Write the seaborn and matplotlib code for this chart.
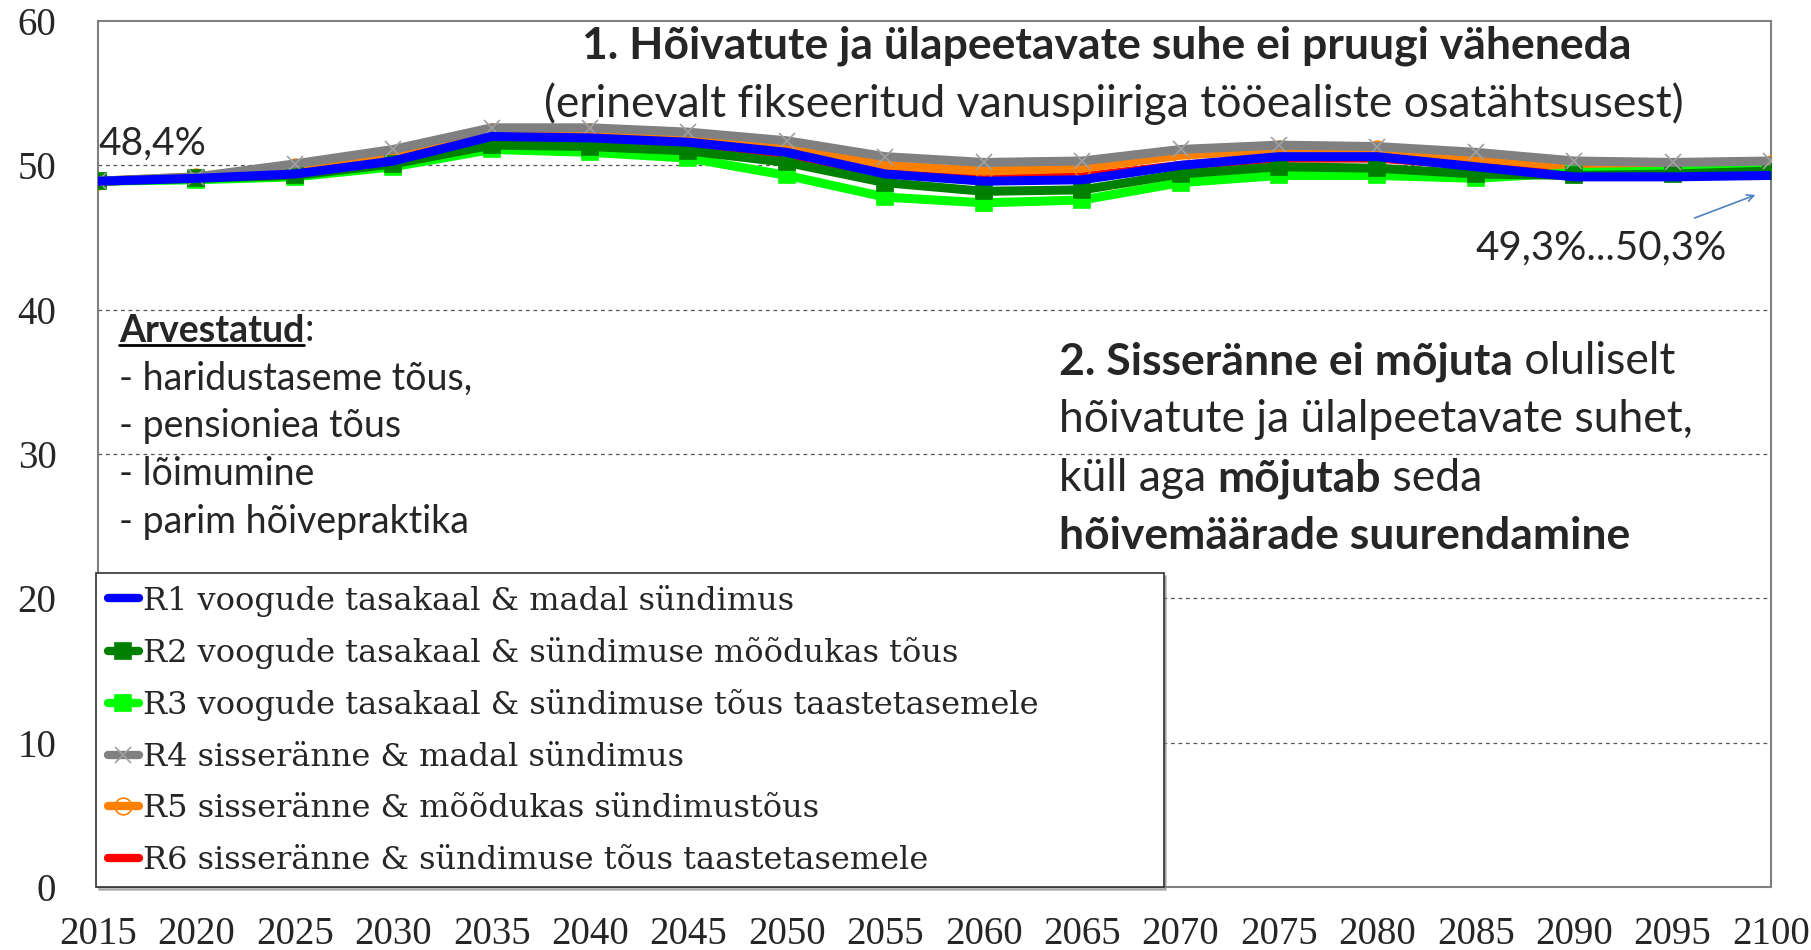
import numpy as np
import pandas as pd
import seaborn as sns
import matplotlib.pyplot as plt

# data
years = list(range(2015, 2101, 5))
r1 = [48.9, 49.1, 49.4, 50.3, 52.0, 51.9, 51.6, 50.9, 49.4, 48.9, 49.0, 50.0, 50.6, 50.6, 49.9, 49.2, 49.2, 49.3]
r2 = [48.9, 49.1, 49.3, 50.1, 51.4, 51.3, 51.0, 50.2, 48.8, 48.2, 48.3, 49.4, 49.9, 49.8, 49.4, 49.3, 49.4, 49.6]
r3 = [48.9, 49.0, 49.2, 49.9, 51.1, 50.9, 50.5, 49.3, 47.8, 47.4, 47.6, 48.8, 49.3, 49.3, 49.1, 49.5, 49.6, 49.8]
r4 = [48.9, 49.2, 50.1, 51.1, 52.6, 52.6, 52.3, 51.7, 50.6, 50.2, 50.3, 51.1, 51.4, 51.3, 50.9, 50.3, 50.2, 50.3]
r5 = [48.9, 49.2, 49.9, 50.8, 52.3, 52.3, 51.9, 51.2, 50.0, 49.6, 49.8, 50.7, 51.1, 51.1, 50.5, 49.9, 49.9, 50.1]
r6 = [48.9, 49.1, 49.4, 50.4, 51.8, 51.6, 51.1, 50.3, 49.6, 49.1, 49.2, 50.0, 50.5, 50.5, 50.0, 49.7, 49.6, 49.8]

names = [
    "R1 voogude tasakaal & madal sündimus",
    "R2 voogude tasakaal & sündimuse mõõdukas tõus",
    "R3 voogude tasakaal & sündimuse tõus taastetasemele",
    "R4 sisseränne & madal sündimus",
    "R5 sisseränne & mõõdukas sündimustõus",
    "R6 sisseränne & sündimuse tõus taastetasemele",
]
series = [r1, r2, r3, r4, r5, r6]
colors = ["#0000ff", "#008000", "#00ff00", "#808080", "#ff8000", "#ff0000"]
markers = [None, "s", "s", "x", "o", None]
zorders = [8, 6, 5, 7, 4, 3]

df = pd.DataFrame({
    "year": years * len(names),
    "value": [v for s in series for v in s],
    "scenario": [n for n in names for _ in years],
})

sns.set_theme(style="white")
serif = ["Liberation Serif", "DejaVu Serif"]
sans = ["Lato", "DejaVu Sans"]

fig = plt.figure(figsize=(18.11, 9.5), dpi=100)
ax = fig.add_axes([98 / 1811, 63 / 950, 1673 / 1811, 866 / 950])

for name, col, mk, z in zip(names, colors, markers, zorders):
    sub = df[df["scenario"] == name]
    kw = dict(marker=mk, markersize=12, markeredgewidth=1.2)
    if mk == "o":
        kw.update(markerfacecolor="none", markeredgecolor=col)
    elif mk == "x":
        kw.update(markeredgecolor="#a0a0a0")
    elif mk == "s":
        kw.update(markeredgecolor=col)
    sns.lineplot(data=sub, x="year", y="value", color=col, linewidth=6.5,
                 label=name, ax=ax, zorder=z, **kw)

ax.set_xlim(2015, 2100)
ax.set_ylim(0, 60)
ax.set_xticks(years)
ax.set_yticks(range(0, 61, 10))
ax.set_xlabel("")
ax.set_ylabel("")
for t in ax.get_xticklabels() + ax.get_yticklabels():
    t.set_fontfamily(serif)
    t.set_fontsize(28)
ax.tick_params(axis="x", length=0, pad=21)
ax.tick_params(axis="y", length=0, pad=30)
for y in range(10, 60, 10):
    ax.axhline(y, color="#555555", lw=0.9, ls=(0, (3, 3)), zorder=1)
for sp in ax.spines.values():
    sp.set_color("#808080")
    sp.set_linewidth(1.5)

leg = ax.legend(loc="lower left", bbox_to_anchor=(-0.001, 0, 0.638, 0.367),
                mode="expand", borderaxespad=0,
                prop={"family": ["DejaVu Serif"], "size": 23}, handlelength=1.0,
                handletextpad=0.1, labelspacing=0.64, borderpad=0.35,
                frameon=True, fancybox=False, shadow={"color": "#808080"},
                edgecolor="#303030")
leg.get_frame().set_linewidth(1.2)
leg.set_zorder(10)
for h in leg.legend_handles:
    h.set_linewidth(6)


def fx(px):
    return px / 1811


def fy(py):
    return 1 - py / 950


fig.text(fx(1107), fy(46), "1. Hõivatute ja ülapeetavate suhe ei pruugi väheneda",
         ha="center", va="center", fontsize=32, fontweight="bold", family=sans)
fig.text(fx(1114), fy(104), "(erinevalt fikseeritud vanuspiiriga tööealiste osatähtsusest)",
         ha="center", va="center", fontsize=32, family=sans)
fig.text(fx(98), fy(144), "48,4%", ha="left", va="center", fontsize=28, family=sans)
fig.text(fx(1475), fy(248), "49,3%...50,3%", ha="left", va="center", fontsize=29, family=sans)
ax.annotate("", xy=(fx(1758), fy(194)), xytext=(fx(1692), fy(219)),
            xycoords="figure fraction", textcoords="figure fraction",
            arrowprops=dict(arrowstyle="->", color="#4f81bd", lw=1.2))

# left note
arv = fig.text(fx(119), fy(331), "Arvestatud", ha="left", va="center",
               fontsize=27, fontweight="bold", family=sans)
ax.annotate(":", xy=(1, 0), xycoords=arv, va="bottom", ha="left",
            fontsize=27, family=sans, annotation_clip=False)
for i, line in enumerate(["- haridustaseme tõus,", "- pensioniea tõus",
                          "- lõimumine", "- parim hõivepraktika"]):
    fig.text(fx(119), fy(379 + i * 47.5), line, ha="left", va="center",
             fontsize=27, family=sans)

# right note with mixed weights
rich = [
    [("2. Sisseränne ei mõjuta", True), (" oluliselt", False)],
    [("hõivatute ja ülalpeetavate suhet,", False)],
    [("küll aga ", False), ("mõjutab", True), (" seda", False)],
    [("hõivemäärade suurendamine", True)],
]
for i, parts in enumerate(rich):
    prev = None
    for txt, bold in parts:
        w = "bold" if bold else "normal"
        if prev is None:
            prev = fig.text(fx(1059), fy(362 + i * 58), txt, ha="left", va="center",
                            fontsize=32, fontweight=w, family=sans)
        else:
            prev = ax.annotate(txt, xy=(1, 0), xycoords=prev, va="bottom", ha="left",
                               fontsize=32, fontweight=w, family=sans,
                               annotation_clip=False)

# underline "Arvestatud"
fig.canvas.draw()
bb = arv.get_window_extent()
fig.add_artist(plt.Line2D([bb.x0 / 1811, bb.x1 / 1811],
                          [(bb.y0 + 3) / 950, (bb.y0 + 3) / 950],
                          transform=fig.transFigure, color="black", lw=2))

fig.savefig("out.png", dpi=100)
